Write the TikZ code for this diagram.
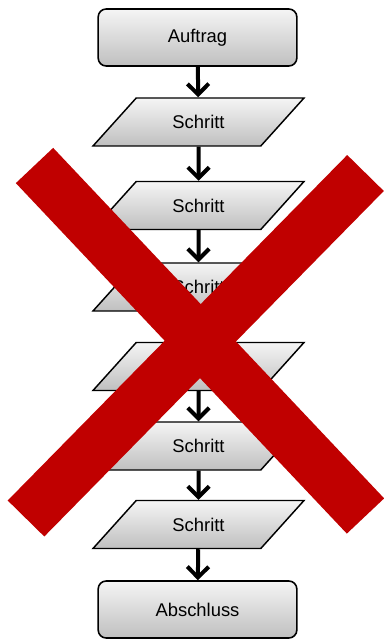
\documentclass[tikz,border=0pt]{standalone}
\usepackage{fontspec}
\setmainfont{Liberation Sans}
\usetikzlibrary{shapes.geometric,arrows.meta}
\definecolor{crossred}{RGB}{192,0,0}

\tikzset{
  boxfont/.style={font=\fontsize{13.8}{16}\selectfont},
  endbox/.style={boxfont, draw, line width=1.2pt, rounded corners=6pt,
    top color=white!96!black, bottom color=black!25,
    minimum width=149pt, minimum height=42.75pt, inner sep=0pt},
  stepbox/.style={boxfont, trapezium, trapezium left angle=48, trapezium right angle=132,
    trapezium stretches body, draw, line width=1.1pt,
    top color=white!96!black, bottom color=black!25,
    text height=10pt, text depth=0pt, inner ysep=13pt, inner xsep=4pt,
    minimum width=158.25pt},
  flowarrow/.style={line width=3pt, -{Straight Barb[length=8pt,width=16pt]}},
}

\begin{document}
\begin{tikzpicture}[x=0.75pt,y=0.75pt,yscale=-1,xscale=1]
\useasboundingbox (0,0) rectangle (383,641);

% Start and end
\node [endbox] (auftrag) at (197.5,37.5) {Auftrag};
\node [endbox] (abschluss) at (197.5,609.5) {Abschluss};

% Steps
\node [stepbox] (schritt1) at (198.5,122) {Schritt};
\node [stepbox] (schritt2) at (198.5,205.5) {Schritt};
\node [stepbox] (schritt3) at (198.5,287) {Schritt};
\node [stepbox] (schritt4) at (198.5,366.5) {Schritt};
\node [stepbox] (schritt5) at (198.5,446) {Schritt};
\node [stepbox] (schritt6) at (198.5,524.5) {Schritt};

% Arrows
\draw [flowarrow] (auftrag) -- (schritt1);
\draw [flowarrow] (schritt1) -- (schritt2);
\draw [flowarrow] (schritt2) -- (schritt3);
\draw [flowarrow] (schritt3) -- (schritt4);
\draw [flowarrow] (schritt4) -- (schritt5);
\draw [flowarrow] (schritt5) -- (schritt6);
\draw [flowarrow] (schritt6) -- (abschluss);

% Red cross
\draw [crossred, line width=38.5pt] (34.5,165.5) -- (365.5,516);
\draw [crossred, line width=38.5pt] (365.5,173) -- (26,518.5);

\end{tikzpicture}
\end{document}
